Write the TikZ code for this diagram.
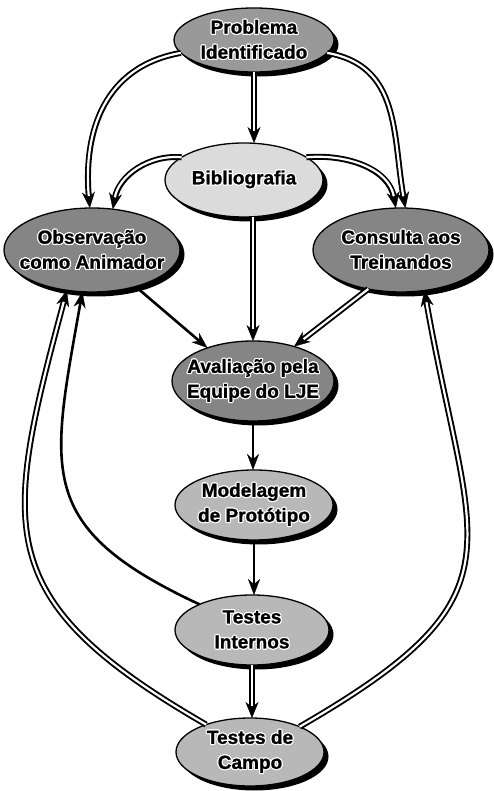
\documentclass[tikz,border=0pt]{standalone}
\usepackage{fontspec}
\usepackage{contour}
\usetikzlibrary{shapes.geometric, arrows.meta, shadows}

\newfontfamily\lblfont{Liberation Sans Bold}[FakeBold=1.2]
\contourlength{1.1pt}
\contournumber{16}
\newcommand\ct[1]{\contour{white}{#1}}

\definecolor{gP}{gray}{0.60}
\definecolor{gB}{gray}{0.86}
\definecolor{gD}{gray}{0.52}
\definecolor{gL}{gray}{0.72}

\tikzset{
  oval/.style={ellipse, draw=black, line width=1.3pt, inner sep=0pt, outer sep=0pt,
    drop shadow={shadow xshift=4.5pt, shadow yshift=-4.5pt, fill=black, opacity=1}},
  lbl/.style={align=center, font=\lblfont\fontsize{19}{25}\selectfont, text=black, inner sep=0pt},
  dbl/.style={line width=6pt, -{Stealth[length=16pt,width=13pt,line width=0.4pt]},
    postaction={draw=white, line width=2.2pt, -, shorten >=12pt}},
  sgl/.style={line width=2.6pt, -{Stealth[length=16pt,width=12pt,line width=0.4pt]}},
}

\begin{document}
\begin{tikzpicture}[x=1pt, y=1pt]
  \fill[white] (0,0) rectangle (493,791);
  \useasboundingbox (0,0) rectangle (493,791);

  % stages of the process
  \node[oval, fill=gP, minimum width=160pt, minimum height=64pt] (P) at (254,751) {};
  \node[lbl] (Pt) at (P.center) {\ct{Problema}\\\ct{Identificado}};

  \node[oval, fill=gB, minimum width=158pt, minimum height=74pt] (B) at (244,611) {};
  \node[lbl] (Bt) at (B.center) {\ct{Bibliografia}};

  \node[oval, fill=gD, minimum width=176pt, minimum height=84pt] (O) at (92,541) {};
  \node[lbl] (Ot) at (O.center) {\ct{Observação}\\\ct{como Animador}};

  \node[oval, fill=gD, minimum width=176pt, minimum height=84pt] (C) at (401,541) {};
  \node[lbl] (Ct) at (C.center) {\ct{Consulta aos}\\\ct{Treinandos}};

  \node[oval, fill=gD, minimum width=162pt, minimum height=80pt] (A) at (253,410) {};
  \node[lbl] (At) at (A.center) {\ct{Avaliação pela}\\\ct{Equipe do LJE}};

  \node[oval, fill=gL, minimum width=158pt, minimum height=70pt] (M) at (254,286) {};
  \node[lbl] (Mt) at (M.center) {\ct{Modelagem}\\\ct{de Protótipo}};

  \node[oval, fill=gL, minimum width=154pt, minimum height=70pt] (TI) at (252,161) {};
  \node[lbl] (TIt) at (TI.center) {\ct{Testes}\\\ct{Internos}};

  \node[oval, fill=gL, minimum width=148pt, minimum height=68pt] (TC) at (250,39) {};
  \node[lbl] (TCt) at (TC.center) {\ct{Testes de}\\\ct{Campo}};

  % connections
  \draw[dbl] (P.south) -- (P.south |- B.north);
  \draw[dbl] (P.190) to[out=190, in=95, looseness=1.1] (O.93);
  \draw[dbl] (P.-10) to[out=-10, in=100, looseness=1.1] (C.84);
  \draw[dbl] (B.160) to[out=175, in=80] (O.63);
  \draw[dbl] (B.20) to[out=5, in=100] (C.97);

  \draw[sgl] (O.-40) -- (A.144);
  \draw[dbl] (A.north |- B.south) -- (A.north);
  \draw[dbl] (C.-130) -- (A.40);

  \draw[sgl] (A.south) -- (A.south |- M.north);
  \draw[sgl] (M.south) -- (M.south |- TI.north);
  \draw[dbl] (TI.south) -- (TI.south |- TC.north);

  \draw[sgl] (TI.154) to[out=155, in=-100, looseness=1.4] (O.-103);
  \draw[dbl] (TC.148) to[out=150, in=-105, looseness=1.4] (O.-122);
  \draw[dbl] (TC.27) to[out=30, in=-80, looseness=1.5] (C.-60);
\end{tikzpicture}
\end{document}
